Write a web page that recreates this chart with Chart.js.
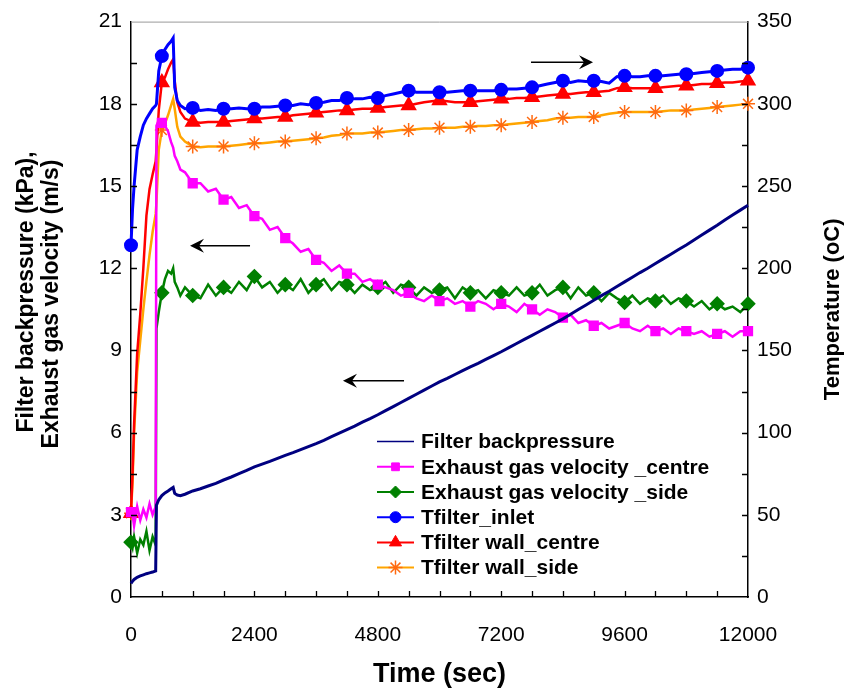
<!DOCTYPE html>
<html>
<head>
  <title>Filter backpressure, exhaust gas velocity and temperature</title>
  <script src="https://cdn.jsdelivr.net/npm/chart.js@4.4.0/dist/chart.umd.min.js"></script>
  <style>
    body { margin: 0; background: #fff; }
    #wrap { width: 846px; height: 691px; }
  </style>
</head>
<body>
  <div id="wrap"><canvas id="chart" width="846" height="691"></canvas></div>

  <script>
    // time axis (sec) - dense around the start-up, every 150 s after that
    const timeSec = [
      0, 30, 60, 120, 180, 240, 300, 360, 420, 480, 495, 540, 600, 660, 720, 780, 820, 850, 900, 960, 1050, 1200,
      1350, 1500, 1650, 1800, 1950, 2100, 2250, 2400,
      2550, 2700, 2850, 3000, 3150, 3300, 3450, 3600,
      3750, 3900, 4050, 4200, 4350, 4500, 4650, 4800,
      4950, 5100, 5250, 5400, 5550, 5700, 5850, 6000,
      6150, 6300, 6450, 6600, 6750, 6900, 7050, 7200,
      7350, 7500, 7650, 7800, 7950, 8100, 8250, 8400,
      8550, 8700, 8850, 9000, 9150, 9300, 9450, 9600,
      9750, 9900, 10050, 10200, 10350, 10500, 10650, 10800,
      10950, 11100, 11250, 11400, 11550, 11700, 11850, 12000
    ];

    // left axis: kPa and m/s
    const backpressure = [
      0.5, 0.58, 0.64, 0.72, 0.77, 0.81, 0.85, 0.88, 0.91, 0.95, 3.35, 3.55, 3.7, 3.8, 3.87, 3.95, 4.0, 3.78, 3.72, 3.7, 3.75, 3.87,
      3.95, 4.05, 4.15, 4.27, 4.38, 4.5, 4.62, 4.75,
      4.85, 4.95, 5.06, 5.17, 5.27, 5.38, 5.49, 5.6,
      5.72, 5.85, 5.98, 6.11, 6.24, 6.38, 6.51, 6.65,
      6.8, 6.95, 7.1, 7.25, 7.4, 7.55, 7.7, 7.85,
      7.98, 8.12, 8.26, 8.4, 8.53, 8.67, 8.81, 8.95,
      9.1, 9.25, 9.4, 9.55, 9.7, 9.85, 10.0, 10.15,
      10.32, 10.49, 10.66, 10.83, 11.0, 11.16, 11.33, 11.5,
      11.67, 11.84, 12.0, 12.17, 12.34, 12.51, 12.68, 12.85,
      13.03, 13.21, 13.39, 13.57, 13.76, 13.94, 14.12, 14.3
    ];
    const velocityCentre = [
      3.1, 3.0, 2.6, 3.3, 2.8, 3.2, 2.9, 3.4, 3.0, 3.3, 17.2, 17.4, 17.3, 17.2, 17.0, 16.6, 16.4, 16.1, 15.9, 15.6, 15.5, 15.1,
      15.1, 14.8, 14.9, 14.5, 14.6, 14.2, 14.3, 13.9,
      13.8, 13.4, 13.5, 13.1, 12.9, 12.6, 12.7, 12.3,
      12.2, 11.9, 12.1, 11.8, 11.8, 11.5, 11.6, 11.4,
      11.3, 11.2, 11.0, 11.1, 10.9, 10.8, 11.0, 10.8,
      10.9, 10.7, 10.8, 10.6, 10.8, 10.7, 10.5, 10.7,
      10.6, 10.4, 10.7, 10.5, 10.3, 10.5, 10.4, 10.2,
      10.3, 10.0, 10.1, 9.9, 10.0, 9.8, 9.9, 10.0,
      9.8, 9.7, 9.9, 9.7, 9.8, 9.6, 9.8, 9.7,
      9.6, 9.7, 9.5, 9.6, 9.7, 9.5, 9.7, 9.7
    ];
    const velocitySide = [
      2.0, 1.8, 2.2, 1.6, 2.1, 1.9, 2.4, 1.7, 2.2, 1.9, 9.8, 10.4, 11.1, 11.6, 11.9, 11.8, 12.0, 11.5, 11.3, 11.0, 11.3, 11.0,
      10.9, 11.4, 11.0, 11.3, 11.1, 11.5, 11.2, 11.7,
      11.3, 11.5, 11.1, 11.4, 11.2, 11.6, 11.1, 11.4,
      11.6, 11.2, 11.5, 11.4, 11.1, 11.4, 11.2, 11.3,
      11.5, 11.1, 11.4, 11.3, 11.0, 11.3, 11.1, 11.2,
      11.3, 10.9, 11.3, 11.1, 11.2, 10.9, 11.2, 11.1,
      11.0, 11.3, 11.0, 11.1, 11.4, 11.0, 11.2, 11.3,
      10.9, 11.3, 11.0, 11.1, 10.8, 11.1, 10.9, 10.75,
      11.0, 10.7, 10.9, 10.8, 11.0, 10.7, 10.9, 10.8,
      10.6, 10.8, 10.5, 10.7, 10.5, 10.6, 10.4, 10.7
    ];

    // right axis: temperature (oC)
    const tInlet = [
      214, 236, 250, 272, 280, 287, 291, 294, 297, 299, 300, 320, 329, 333, 336, 338, 340, 310, 302, 299, 297, 297.5,
      296, 296.5, 296, 297, 297, 297.5, 297, 297,
      298, 298, 298.5, 299, 299, 300, 299.5, 300.5,
      301, 302, 302, 303.5, 303, 303, 304, 303.5,
      305, 306, 307, 308, 307, 307, 307, 307,
      307, 307.5, 308, 308, 308, 308, 308, 308.5,
      309, 309, 309.5, 310, 311, 312, 313, 314,
      313, 314, 313.5, 314, 313.5, 312.5, 316.5, 317,
      316.5, 316.5, 317, 317, 317, 317.5, 318, 318,
      318.5, 319, 319.5, 320, 320.5, 321, 321, 322
    ];
    const tWallCentre = [
      51, 75, 105, 148, 172, 200, 232, 248, 257, 265, 272, 296, 313, 316, 321, 325, 327, 314, 301, 295, 291, 289,
      288.5, 289, 289, 289, 289.5, 290, 290.5, 291,
      291, 291.5, 292, 292, 293, 293.5, 294, 294.5,
      295, 295.5, 296, 296, 296.5, 297, 297, 297.5,
      298, 298.5, 299, 299, 300, 301, 301.5, 302,
      301.5, 301, 301, 301, 301.5, 302, 302.5, 303,
      303, 303.5, 303.5, 304, 304.5, 305, 305.5, 306,
      306, 306.5, 307, 307, 307.5, 308, 309.5, 310,
      309.5, 309.5, 309.5, 309.5, 310, 310.5, 311, 311,
      311.5, 312, 312, 312.5, 313, 313, 313.5, 314
    ];
    const tWallSide = [
      51, 70, 100, 137, 156, 175, 192, 208, 222, 233, 240, 272, 284, 288, 293, 299, 303, 297, 286, 280, 277, 274,
      273.5, 274, 274, 274, 274.5, 275, 275.5, 276,
      276, 276.5, 277, 277, 277.5, 278, 278.5, 279,
      279.5, 280.5, 281, 282, 282, 282, 282.5, 282.5,
      283, 283.5, 284, 284, 284.5, 285, 285, 285.5,
      285.5, 285.5, 286, 286, 286.5, 286.5, 287, 287,
      287.5, 288, 288.5, 289, 289.5, 290, 291, 291.5,
      291.5, 292, 292, 292, 293, 294, 294.5, 295,
      295, 295, 295, 295, 295.5, 296, 296, 296,
      296.5, 297, 297.5, 298, 298.5, 299, 299.5, 300
    ];

    const seriesNames = [
      'Filter backpressure',
      'Exhaust gas velocity _centre',
      'Exhaust gas velocity _side',
      'Tfilter_inlet',
      'Tfilter wall_centre',
      'Tfilter wall_side'
    ];
    const leftTitle = ['Filter backpressure (kPa),', 'Exhaust gas velocity (m/s)'];
    const rightTitle = 'Temperature (oC)';

    // arrows pointing at the axis each group belongs to (time, left-axis value)
    const arrows = [
      { tail: 7780, tip: 8986, y: 19.52 },
      { tail: 2315, tip: 1148, y: 12.82 },
      { tail: 5310, tip: 4123, y: 7.89 }
    ];

    const FONT = "'Liberation Sans', Arial, sans-serif";
    Chart.defaults.font.family = FONT;
    Chart.defaults.color = '#000';

    const pts = values => values.map((v, i) => ({ x: timeSec[i], y: v }));
    // markers every 600 s like the original plot
    const every600 = r => ctx => (timeSec[ctx.dataIndex] % 600 === 0 ? r : 0);

    function rotatedText(ctx, text, x, y, size) {
      ctx.save();
      ctx.translate(x, y);
      ctx.rotate(-Math.PI / 2);
      ctx.fillStyle = '#000';
      ctx.font = 'bold ' + size + 'px ' + FONT;
      ctx.textAlign = 'center';
      ctx.textBaseline = 'middle';
      ctx.fillText(text, 0, 0);
      ctx.restore();
    }

    const framePlugin = {
      id: 'frame',
      afterDatasetsDraw(chart) {
        const { ctx, chartArea: a, scales } = chart;
        ctx.save();
        ctx.strokeStyle = '#999';
        ctx.lineWidth = 1;
        ctx.beginPath();
        ctx.moveTo(a.left, a.top + 0.5);
        ctx.lineTo(a.right, a.top + 0.5);
        ctx.stroke();

        ctx.strokeStyle = '#000';
        ctx.lineWidth = 1.3;
        ctx.beginPath();
        for (let v = 600; v < 12000; v += 600) {
          const x = Math.round(scales.x.getPixelForValue(v)) + 0.5;
          ctx.moveTo(x, a.bottom);
          ctx.lineTo(x, a.bottom - 6);
        }
        for (let v = 1.5; v < 21; v += 1.5) {
          const y = Math.round(scales.y.getPixelForValue(v)) + 0.5;
          ctx.moveTo(a.left, y);
          ctx.lineTo(a.left + 6, y);
        }
        for (let v = 25; v < 350; v += 25) {
          const y = Math.round(scales.y1.getPixelForValue(v)) + 0.5;
          ctx.moveTo(a.right, y);
          ctx.lineTo(a.right - 6, y);
        }
        ctx.stroke();
        ctx.restore();

        // axis titles, both reading bottom-to-top
        rotatedText(ctx, leftTitle[0], 27, 292, 23);
        rotatedText(ctx, leftTitle[1], 52, 304, 23);
        rotatedText(ctx, rightTitle, 833, (a.top + a.bottom) / 2, 22);
      }
    };

    const arrowPlugin = {
      id: 'arrows',
      afterDatasetsDraw(chart) {
        const { ctx, scales } = chart;
        ctx.save();
        ctx.strokeStyle = '#000';
        ctx.fillStyle = '#000';
        ctx.lineWidth = 1.5;
        arrows.forEach(ar => {
          const x0 = scales.x.getPixelForValue(ar.tail);
          const x1 = scales.x.getPixelForValue(ar.tip);
          const y = scales.y.getPixelForValue(ar.y);
          const dir = x1 > x0 ? 1 : -1;
          ctx.beginPath();
          ctx.moveTo(x0, y);
          ctx.lineTo(x1 - dir * 8, y);
          ctx.stroke();
          ctx.beginPath();
          ctx.moveTo(x1, y);
          ctx.lineTo(x1 - dir * 14, y - 7);
          ctx.lineTo(x1 - dir * 9, y);
          ctx.lineTo(x1 - dir * 14, y + 7);
          ctx.closePath();
          ctx.fill();
        });
        ctx.restore();
      }
    };

    const legendPlugin = {
      id: 'insideLegend',
      afterDraw(chart) {
        const { ctx, chartArea: a } = chart;
        ctx.save();
        chart.data.datasets.forEach((ds, i) => {
          const y = a.top + 420 + i * 25.2;
          const x0 = a.left + 246;
          const x1 = x0 + 37;
          ctx.strokeStyle = ds.borderColor;
          ctx.lineWidth = i === 0 ? 1.5 : 2;
          ctx.beginPath();
          ctx.moveTo(x0, y);
          ctx.lineTo(x1, y);
          ctx.stroke();
          if (ds.pointStyle) {
            ctx.fillStyle = ds.pointBackgroundColor;
            ctx.strokeStyle = ds.pointBorderColor;
            ctx.lineWidth = ds.pointBorderWidth || 1;
            Chart.helpers.drawPoint(ctx, {
              pointStyle: ds.pointStyle,
              radius: ds.legendRadius,
              rotation: 0,
              borderWidth: ds.pointBorderWidth || 1
            }, (x0 + x1) / 2, y);
          }
          ctx.fillStyle = '#000';
          ctx.font = 'bold 21px ' + FONT;
          ctx.textBaseline = 'middle';
          ctx.textAlign = 'left';
          ctx.fillText(seriesNames[i], x1 + 7, y + 1);
        });
        ctx.restore();
      }
    };

    const tickFont = { size: 21 };

    new Chart(document.getElementById('chart'), {
      type: 'line',
      data: {
        datasets: [
          {
            label: seriesNames[0], data: pts(backpressure), yAxisID: 'y',
            borderColor: '#000080', borderWidth: 3, pointRadius: 0
          },
          {
            label: seriesNames[1], data: pts(velocityCentre), yAxisID: 'y',
            borderColor: '#ff00ff', borderWidth: 2.5,
            pointStyle: 'rect', pointRadius: every600(5.5), legendRadius: 5.5,
            pointBackgroundColor: '#ff00ff', pointBorderColor: '#ff00ff'
          },
          {
            label: seriesNames[2], data: pts(velocitySide), yAxisID: 'y',
            borderColor: '#008000', borderWidth: 2.5,
            pointStyle: 'rectRot', pointRadius: every600(6), legendRadius: 6,
            pointBackgroundColor: '#008000', pointBorderColor: '#008000'
          },
          {
            label: seriesNames[3], data: pts(tInlet), yAxisID: 'y1',
            borderColor: '#0000ff', borderWidth: 3,
            pointStyle: 'circle', pointRadius: every600(5.5), legendRadius: 5.5,
            pointBackgroundColor: '#0000ff', pointBorderColor: '#0000ff'
          },
          {
            label: seriesNames[4], data: pts(tWallCentre), yAxisID: 'y1',
            borderColor: '#ff0000', borderWidth: 2.5,
            pointStyle: 'triangle', pointRadius: every600(7), legendRadius: 7,
            pointBackgroundColor: '#ff0000', pointBorderColor: '#ff0000'
          },
          {
            label: seriesNames[5], data: pts(tWallSide), yAxisID: 'y1',
            borderColor: '#ffa500', borderWidth: 2.5,
            pointStyle: 'star', pointRadius: every600(7), legendRadius: 7,
            pointBackgroundColor: '#ff6a10', pointBorderColor: '#ff6a10', pointBorderWidth: 1.5
          }
        ]
      },
      options: {
        responsive: false,
        animation: false,
        devicePixelRatio: 1,
        layout: { padding: { top: 17, left: 0, right: 0, bottom: 0 } },
        elements: { line: { tension: 0 }, point: { hoverRadius: 0 } },
        datasets: { line: { clip: false } },
        plugins: { legend: { display: false }, tooltip: { enabled: false } },
        scales: {
          x: {
            type: 'linear', min: 0, max: 12000,
            ticks: { stepSize: 2400, font: tickFont, padding: 26, maxRotation: 0, callback: v => String(v) },
            grid: { display: false, drawTicks: false },
            border: { color: '#000', width: 1.5 },
            title: { display: true, text: 'Time (sec)', font: { size: 27, weight: 'bold', lineHeight: 1.1 }, padding: { top: 0, bottom: 2 } },
            afterFit(s) { s.height = 94; }
          },
          y: {
            position: 'left', min: 0, max: 21,
            ticks: { stepSize: 3, font: tickFont, padding: 9 },
            grid: { display: false, drawTicks: false },
            border: { color: '#000', width: 1.5 },
            title: { display: false },
            afterFit(s) { s.width = 131; }
          },
          y1: {
            position: 'right', min: 0, max: 350,
            ticks: { stepSize: 50, font: tickFont, padding: 9 },
            grid: { display: false, drawTicks: false },
            border: { color: '#000', width: 1.5 },
            title: { display: false },
            afterFit(s) { s.width = 98; }
          }
        }
      },
      plugins: [framePlugin, arrowPlugin, legendPlugin]
    });
  </script>
</body>
</html>
